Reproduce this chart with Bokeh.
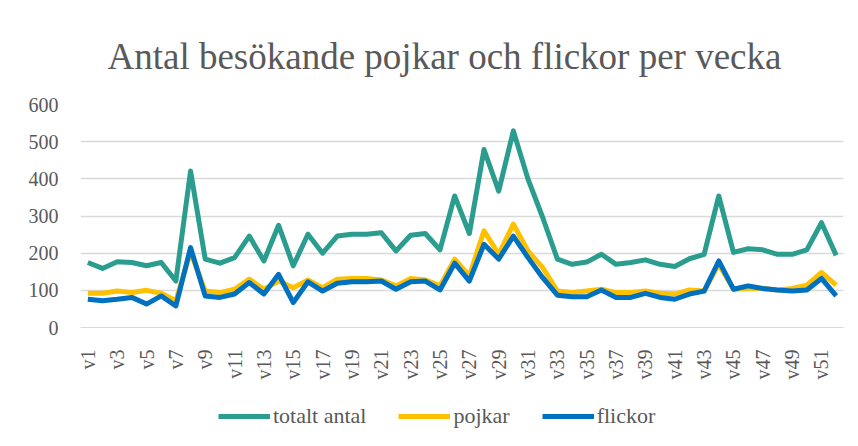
import numpy as np
from bokeh.plotting import figure
from bokeh.layouts import column
from bokeh.models import Range1d, FixedTicker, Legend, LegendItem, ColumnDataSource
from bokeh.embed import file_html
from bokeh.resources import INLINE

weeks = [f"v{i}" for i in range(1, 53)]
totalt = [175, 159, 177, 175, 166, 175, 125, 421, 184, 173, 188, 246, 179, 275, 166,
          251, 200, 246, 251, 251, 255, 206, 248, 253, 209, 354, 253, 479, 367, 529,
          399, 296, 184, 170, 176, 197, 170, 175, 182, 170, 164, 185, 197, 354, 202,
          212, 209, 197, 197, 209, 282, 194]
pojkar = [92, 92, 98, 94, 100, 92, 72, 203, 98, 94, 103, 130, 103, 125, 107,
          128, 107, 130, 132, 132, 128, 112, 132, 128, 112, 184, 139, 260, 197, 278,
          206, 161, 98, 94, 98, 103, 94, 94, 98, 92, 90, 101, 98, 170, 103,
          105, 105, 101, 105, 114, 148, 114]
flickor = [76, 72, 76, 81, 63, 85, 58, 215, 85, 81, 90, 121, 90, 143, 67,
           123, 98, 119, 123, 123, 125, 103, 123, 125, 101, 173, 125, 224, 184, 246,
           188, 134, 87, 83, 83, 101, 81, 81, 92, 81, 76, 90, 98, 179, 103,
           112, 105, 101, 98, 101, 132, 85]
series_names = ["totalt antal", "pojkar", "flickor"]
colors = ["#2A9D8F", "#FFC000", "#0070C0"]
y_ticks = [0, 100, 200, 300, 400, 500, 600]

x = list(range(1, len(weeks) + 1))
src = ColumnDataSource(dict(x=x, week=weeks, totalt=totalt, pojkar=pojkar, flickor=flickor))
keys = ["totalt", "pojkar", "flickor"]

SERIF = "Liberation Serif"
GREY = "#595959"

p = figure(width=850, height=390, output_backend="svg", toolbar_location=None,
           x_range=Range1d(0.5, len(weeks) + 0.5), y_range=Range1d(0, 600),
           min_border_left=80, min_border_right=7, min_border_top=104, min_border_bottom=63)

p.title.text = "Antal besökande pojkar och flickor per vecka"
p.title.text_font = SERIF
p.title.text_font_size = "37px"
p.title.text_font_style = "normal"
p.title.text_color = GREY
p.title.align = "left"
p.title.offset = 27
p.title.standoff = 55

p.outline_line_color = None
p.xgrid.grid_line_color = None
p.ygrid.grid_line_color = "#d9d9d9"
p.ygrid.grid_line_width = 1.3

p.yaxis.ticker = FixedTicker(ticks=y_ticks)
p.yaxis.axis_line_color = None
p.yaxis.major_tick_line_color = None
p.yaxis.minor_tick_line_color = None
p.yaxis.major_label_text_font = SERIF
p.yaxis.major_label_text_font_size = "20px"
p.yaxis.major_label_text_color = GREY
p.yaxis.major_label_standoff = 16

odd = [i for i in x if i % 2 == 1]
p.xaxis.ticker = FixedTicker(ticks=odd)
p.xaxis.major_label_overrides = {i: weeks[i - 1] for i in odd}
p.xaxis.major_label_orientation = np.pi / 2
p.xaxis.axis_line_color = "#d9d9d9"
p.xaxis.major_tick_line_color = None
p.xaxis.minor_tick_line_color = None
p.xaxis.major_label_text_font = SERIF
p.xaxis.major_label_text_font_size = "20px"
p.xaxis.major_label_text_color = GREY
p.xaxis.major_label_standoff = 16

for key, c in zip(keys, colors):
    p.line("x", key, source=src, line_color=c, line_width=5, line_join="round")

# legend strip below the chart (same series, drawn outside its visible range)
lg = figure(width=850, height=48, output_backend="svg", toolbar_location=None,
            x_range=Range1d(0.5, len(weeks) + 0.5), y_range=Range1d(1000, 2000),
            min_border=0)
lg.axis.visible = False
lg.grid.visible = False
lg.outline_line_color = None
lg_renderers = [lg.line("x", key, source=src, line_color=c, line_width=5)
                for key, c in zip(keys, colors)]

legend = Legend(items=[LegendItem(label=n, renderers=[r]) for n, r in zip(series_names, lg_renderers)],
                orientation="horizontal", location=(138, 9))
legend.label_text_font = SERIF
legend.label_text_font_size = "22px"
legend.label_text_color = GREY
legend.glyph_width = 52
legend.glyph_height = 20
legend.spacing = 32
legend.label_standoff = 3
legend.border_line_color = None
legend.background_fill_alpha = 0
legend.margin = 0
legend.padding = 4
lg.add_layout(legend)

layout = column(p, lg, spacing=0)
open("out.html", "w").write(file_html(layout, INLINE))
